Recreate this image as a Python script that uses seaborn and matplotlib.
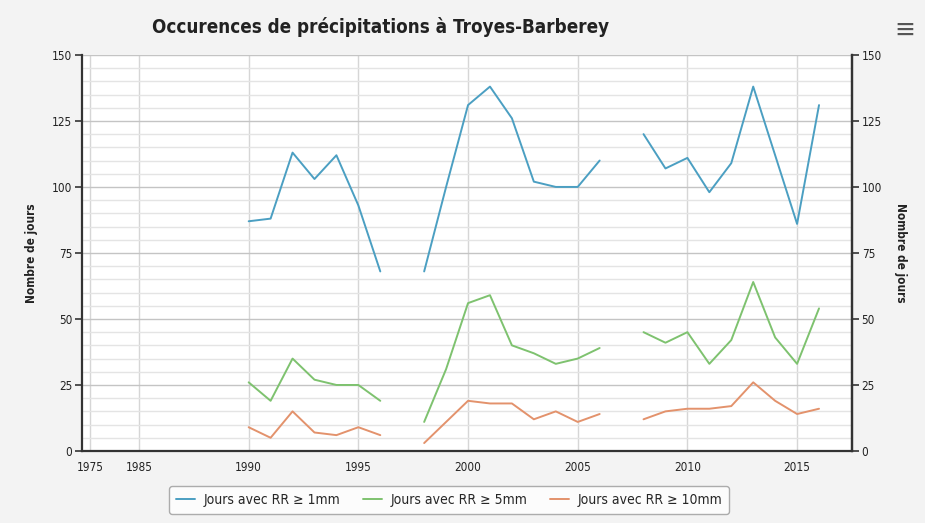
import numpy as np
import pandas as pd
import matplotlib
matplotlib.use("Agg")
import matplotlib.pyplot as plt
from matplotlib.lines import Line2D
from matplotlib.ticker import MultipleLocator
import seaborn as sns

years = list(range(1990, 2017))
rr1 = [87, 88, 113, 103, 112, 93, 68, np.nan, 68, 100, 131, 138, 126, 102, 100, 100, 110,
       np.nan, 120, 107, 111, 98, 109, 138, 112, 86, 131]
rr5 = [26, 19, 35, 27, 25, 25, 19, np.nan, 11, 31, 56, 59, 40, 37, 33, 35, 39,
       np.nan, 45, 41, 45, 33, 42, 64, 43, 33, 54]
rr10 = [9, 5, 15, 7, 6, 9, 6, np.nan, 3, 11, 19, 18, 18, 12, 15, 11, 14,
        np.nan, 12, 15, 16, 16, 17, 26, 19, 14, 16]
series_names = ["Jours avec RR \u2265 1mm", "Jours avec RR \u2265 5mm", "Jours avec RR \u2265 10mm"]
tick_years = [1975, 1985, 1990, 1995, 2000, 2005, 2010, 2015]
y_ticks = [0, 25, 50, 75, 100, 125, 150]

colors = ["#4b9fc2", "#7ec26f", "#e3926c"]


def axis_pos(y):
    # the axis is squeezed before 1985
    y = np.asarray(y, dtype=float)
    return np.where(y < 1985, 1985 - (1985 - y) * 0.2227, y)


frames = []
for name, vals in zip(series_names, [rr1, rr5, rr10]):
    d = pd.DataFrame({"annee": years, "jours": vals})
    d["segment"] = d["jours"].isna().cumsum()
    d["serie"] = name
    frames.append(d.dropna())
df = pd.concat(frames, ignore_index=True)
df["x"] = axis_pos(df["annee"])

sns.set_style("white")
plt.rcParams["font.family"] = ["DejaVu Sans Condensed", "Liberation Sans Narrow", "DejaVu Sans"]
plt.rcParams["font.stretch"] = "condensed"

fig = plt.figure(figsize=(9.25, 5.23), dpi=100, facecolor="#f3f3f3")
ax = fig.add_axes([0.0886, 0.1377, 0.8324, 0.7573])
ax.set_facecolor("white")

sns.lineplot(data=df, x="x", y="jours", hue="serie", units="segment", estimator=None,
             palette=colors, linewidth=1.4, legend=False, ax=ax, zorder=3)

ax.set_xlim(1982.4, 2017.5)
ax.set_ylim(0, 150)
ax.set_xticks(axis_pos(tick_years))
ax.set_xticklabels([str(t) for t in tick_years])
ax.set_yticks(y_ticks)
ax.yaxis.set_minor_locator(MultipleLocator(5))
ax.grid(which="major", axis="y", color="#c4c4c4", linewidth=1.0)
ax.grid(which="minor", axis="y", color="#e4e4e4", linewidth=1.0)
ax.grid(which="major", axis="x", color="#d6d6d6", linewidth=1.0)
ax.set_axisbelow(True)
ax.tick_params(axis="both", which="major", labelsize=8.5, length=5, width=1.2,
               color="#333333", labelcolor="#222222", direction="out", pad=2)
ax.tick_params(axis="y", which="minor", length=0)
ax.set_xlabel("")
ax.set_ylabel("Nombre de jours", fontsize=8.5, fontweight="bold", color="#222222", labelpad=10)
for side in ["left", "bottom", "right"]:
    ax.spines[side].set_color("#333333")
    ax.spines[side].set_linewidth(1.6)
ax.spines["top"].set_visible(False)

ax2 = ax.twinx()
ax2.set_ylim(0, 150)
ax2.set_yticks(y_ticks)
ax2.tick_params(axis="y", labelsize=8.5, length=5, width=1.2, color="#333333",
                labelcolor="#222222", pad=2)
ax2.set_ylabel("Nombre de jours", fontsize=8.5, fontweight="bold", color="#222222",
               rotation=-90, labelpad=18)
for s in ax2.spines.values():
    s.set_visible(False)
ax2.spines["right"].set_visible(True)
ax2.spines["right"].set_color("#333333")
ax2.spines["right"].set_linewidth(1.6)

fig.text(381 / 925, 1 - 27 / 523, "Occurences de pr\u00e9cipitations \u00e0 Troyes-Barberey",
         ha="center", va="center", fontsize=13.5, fontweight="bold", color="#222222")
fig.text(905 / 925, 1 - 30 / 523, "\u2261", ha="center", va="center", fontsize=20,
         color="#555555", family="DejaVu Sans")

handles = [Line2D([0], [0], color=c, linewidth=1.4) for c in colors]
leg = fig.legend(handles, series_names, loc="center", bbox_to_anchor=(449 / 925, 1 - 500 / 523),
                 ncol=3, frameon=True, fontsize=10, handlelength=1.4, columnspacing=1.6,
                 handletextpad=0.6, borderpad=0.5, fancybox=True)
leg.get_frame().set_edgecolor("#999999")
leg.get_frame().set_facecolor("white")
leg.get_frame().set_linewidth(1.0)

fig.savefig("out.png", dpi=100, facecolor=fig.get_facecolor())
